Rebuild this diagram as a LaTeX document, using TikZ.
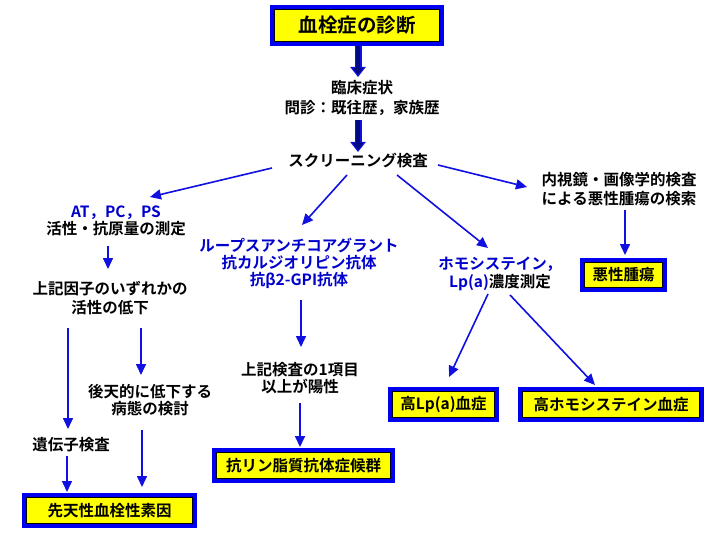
\documentclass[tikz,border=0pt]{standalone}
\usepackage{fontspec}
\usetikzlibrary{arrows.meta,calc}
\newfontfamily\jp{Noto Sans CJK JP}[BoldFont={Noto Sans CJK JP Bold}]
\newcommand\jpf[2]{\jp\bfseries\fontsize{#1}{#2}\selectfont}
\definecolor{tblue}{HTML}{0000CC}
\definecolor{ablue}{HTML}{1010E0}
\definecolor{bblue}{HTML}{0000F0}
\definecolor{dnavy}{HTML}{000A80}
\definecolor{yel}{HTML}{FFFF00}
\tikzset{
  txt/.style={inner sep=0pt, align=center, font=\jpf{15.5}{17.5}},
  btxt/.style={txt, text=tblue},
  ybox/.style={inner sep=0pt, fill=yel, draw=black, line width=0.6pt,
    preaction={draw=bblue, line width=9pt}, font=\jpf{15.5}{17.5}},
  arr/.style={draw=ablue, line width=1.6pt, -{Triangle[length=11pt,width=10pt]}},
  thk/.style={draw=ablue, line width=7pt, -{Triangle[length=10pt,width=15pt]}},
  thkin/.style={draw=dnavy, line width=4pt, shorten >=2pt, -{Triangle[length=7pt,width=10pt]}},
}
\begin{document}
\begin{tikzpicture}[x=1pt,y=-1pt]
\path[use as bounding box, fill=white] (0,0) rectangle (720,540);

% nodes
\node[ybox, minimum width=165pt, minimum height=32pt, font=\jpf{19.5}{22}] (title) at (357,25.5) {血栓症の診断};
\node[txt, font=\jpf{15.5}{20}] (rinsho) at (362,98) {臨床症状\\問診：既往歴，家族歴};
\node[txt] (screen) at (358,161) {スクリーニング検査};

\node[txt, font=\jpf{15.5}{17}] (at) at (116,221) {{\color{tblue}AT，PC，PS}\\活性・抗原量の測定};
\node[txt, font=\jpf{15.5}{18.5}] (kaka) at (110,298) {上記因子のいずれかの\\活性の低下};
\node[txt] (kotenteki) at (150,400) {後天的に低下する\\病態の検討};
\node[txt] (idenshi) at (71,445) {遺伝子検査};
\node[ybox, minimum width=166pt, minimum height=26pt] (sentensei) at (109.5,510.5) {先天性血栓性素因};

\node[btxt, font=\jpf{15.5}{16.8}] (lupus) at (299,263.5) {ループスアンチコアグラント\\抗カルジオリピン抗体\\抗β2-GPI抗体};
\node[txt, font=\jpf{15.5}{16.5}] (joki) at (300,378) {上記検査の1項目\\以上が陽性};
\node[ybox, minimum width=174pt, minimum height=26pt] (kolin) at (303.5,465.5) {抗リン脂質抗体症候群};

\node[btxt] (homo) at (500,274) {ホモシステイン，\\Lp(a)\textcolor{black}{濃度測定}};
\node[ybox, minimum width=102pt, minimum height=26pt] (highlp) at (443.5,404.5) {高Lp(a)血症};
\node[ybox, minimum width=177pt, minimum height=26pt] (highhomo) at (611,404.5) {高ホモシステイン血症};

\node[txt, font=\jpf{15.5}{18.5}] (naishi) at (619,189) {内視鏡・画像学的検査\\による悪性腫瘍の検索};
\node[ybox, minimum width=78pt, minimum height=25pt] (akusei) at (623.5,275) {悪性腫瘍};

% thick arrows
\draw[thk] ($(title)+(1,20.5)$) -- ($(rinsho)+(-4,-21)$);
\draw[thkin] ($(title)+(1,20.5)$) -- ($(rinsho)+(-4,-21)$);
\draw[thk] ($(rinsho)+(-4,22)$) -- ($(screen)+(0,-9)$);
\draw[thkin] ($(rinsho)+(-4,22)$) -- ($(screen)+(0,-9)$);

% thin arrows
\draw[arr] ($(screen)+(-86,7)$) -- ($(at)+(34,-24)$);
\draw[arr] ($(screen)+(-11,14)$) -- ($(lupus)+(3,-38.5)$);
\draw[arr] ($(screen)+(39,14)$) -- ($(homo)+(-12,-26)$);
\draw[arr] ($(screen)+(80,4)$) -- ($(naishi)+(-92,-2)$);

\draw[arr] ($(at)+(-8,25)$) -- ($(kaka)+(-2,-29)$);
\draw[arr] ($(kaka)+(-42,30)$) -- ($(idenshi)+(-3,-16)$);
\draw[arr] ($(kaka)+(31,30)$) -- ($(kotenteki)+(-9,-25)$);
\draw[arr] ($(kotenteki)+(-8,30)$) -- ($(sentensei)+(32.5,-23.5)$);
\draw[arr] ($(idenshi)+(-4,11)$) -- ($(sentensei)+(-42.5,-18.5)$);

\draw[arr] ($(lupus)+(2,36.5)$) -- ($(joki)+(1,-31)$);
\draw[arr] ($(joki)+(0,25)$) -- ($(kolin)+(-3.5,-18.5)$);

\draw[arr] ($(homo)+(-12,20)$) -- ($(highlp)+(5.5,-27.5)$);
\draw[arr] ($(homo)+(10,21)$) -- ($(highhomo)+(-16,-19.5)$);

\draw[arr] ($(naishi)+(6,21)$) -- ($(akusei)+(1.5,-20)$);
\end{tikzpicture}
\end{document}
